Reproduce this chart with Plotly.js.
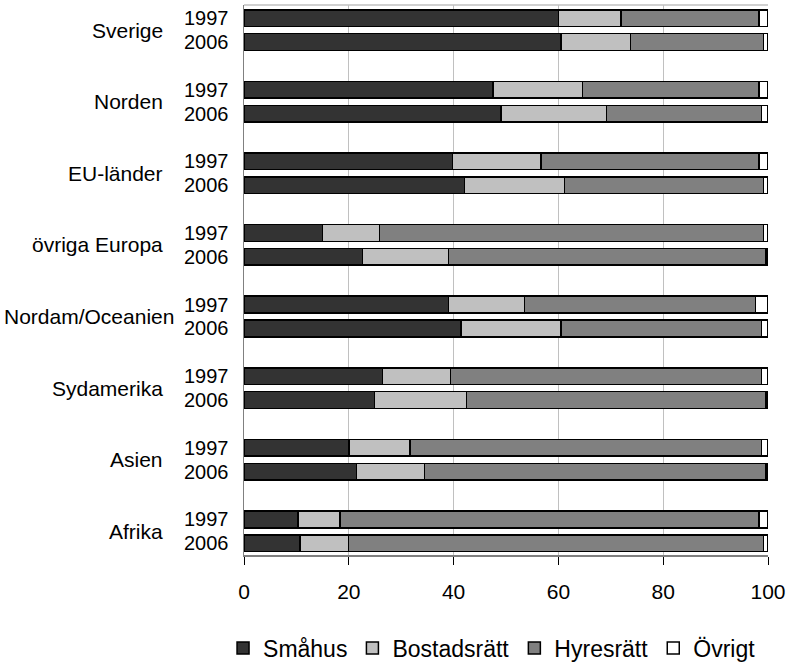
<!DOCTYPE html>
<html>
<head>
<meta charset="utf-8">
<script src="https://cdn.plot.ly/plotly-3.0.1.min.js"></script>
<style>html,body{margin:0;padding:0;background:#fff;}#chart{width:790px;height:662px;}</style>
</head>
<body>
<div id="chart"></div>
<script>
const regions = ["Sverige", "Norden", "EU-länder", "övriga Europa", "Nordam/Oceanien", "Sydamerika", "Asien", "Afrika"];
const years = ["1997", "2006"];
// values per region: [1997, 2006]
const smahus      = [[60.0, 60.5], [47.5, 49.0], [39.8, 42.1], [15.0, 22.6], [39.0, 41.4], [26.4, 24.9], [20.0, 21.5], [10.3, 10.7]];
const bostadsratt = [[11.9, 13.3], [17.1, 20.2], [16.9, 19.1], [10.9, 16.4], [14.5, 19.1], [13.0, 17.6], [11.7, 12.9], [8.0, 9.2]];
const hyresratt   = [[26.4, 25.3], [33.7, 29.6], [41.6, 37.9], [73.2, 60.6], [44.1, 38.3], [59.4, 57.1], [67.1, 65.2], [80.0, 79.2]];
const ovrigt      = [[1.7, 0.9], [1.7, 1.2], [1.7, 0.9], [0.9, 0.4], [2.4, 1.2], [1.2, 0.4], [1.2, 0.4], [1.7, 0.9]];
const seriesNames = ["Småhus", "Bostadsrätt", "Hyresrätt", "Övrigt"];
const seriesData = [smahus, bostadsratt, hyresratt, ovrigt];
const colors = ["#333333", "#c0c0c0", "#808080", "#ffffff"];

const pos = [], tickText = [];
regions.forEach((r, g) => {
  years.forEach((yr, k) => { pos.push(g * 3 + k); tickText.push(yr); });
});

const traces = seriesData.map((d, i) => ({
  type: "bar",
  orientation: "h",
  name: seriesNames[i],
  y: pos,
  x: d.flat(),
  width: 0.7,
  marker: {color: colors[i], line: {color: "#000000", width: 1.5}},
  hoverinfo: "x+name"
}));

const font = "Liberation Sans, Arial, sans-serif";
const annotations = regions.map((r, g) => ({
  xref: "paper", yref: "y",
  x: -0.150, y: g * 3 + 0.5,
  xanchor: "right", yanchor: "middle",
  xshift: r === "Nordam/Oceanien" ? 11 : 0,
  text: r, showarrow: false,
  font: {family: font, size: 21, color: "#000"}
}));

const layout = {
  width: 790, height: 662,
  margin: {l: 244, r: 22, t: 5, b: 107, autoexpand: false},
  barmode: "stack",
  paper_bgcolor: "#fff", plot_bgcolor: "#fff",
  font: {family: font, size: 20, color: "#000"},
  showlegend: true,
  legend: {orientation: "h", x: -0.04, xanchor: "left", y: -0.169, yanchor: "middle",
           font: {family: font, size: 23, color: "#000"}, traceorder: "normal",
           itemwidth: 30, tracegroupgap: 0},
  xaxis: {range: [0, 100], tickvals: [0, 20, 40, 60, 80, 100], showgrid: true, gridcolor: "#c0c0c0", gridwidth: 1,
          zeroline: false, showline: true, linecolor: "#808080", linewidth: 1.5,
          ticks: "outside", ticklen: 8, tickcolor: "#000", tickwidth: 1,
          tickfont: {family: font, size: 21, color: "#000"}, ticklabelstandoff: 9, fixedrange: true},
  yaxis: {range: [22.49, -0.55], tickvals: pos, ticktext: tickText, showgrid: false, zeroline: false,
          showline: true, linecolor: "#808080", linewidth: 1.5, ticks: "", ticklabelstandoff: 10,
          tickfont: {family: font, size: 20, color: "#000"}, fixedrange: true},
  shapes: [
    {type: "line", xref: "paper", yref: "paper", x0: 0, x1: 1, y0: 1, y1: 1, line: {color: "#c0c0c0", width: 1.5}}
  ],
  annotations: annotations
};

Plotly.newPlot("chart", traces, layout, {displayModeBar: false, staticPlot: true});
</script>
</body>
</html>
